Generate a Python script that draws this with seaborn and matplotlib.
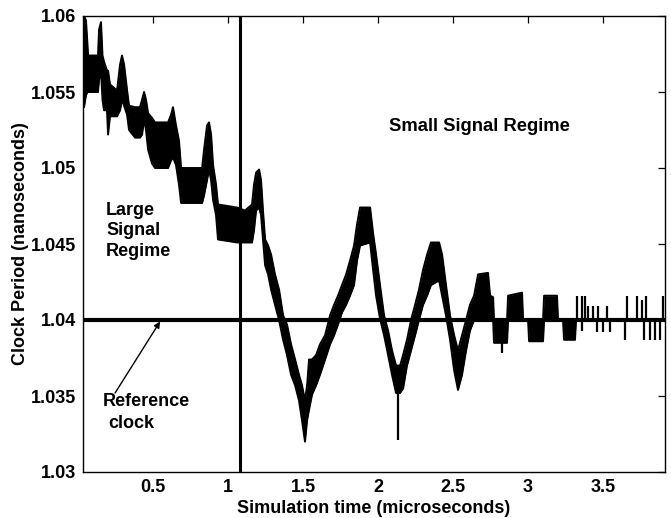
import matplotlib
matplotlib.use("Agg")
import matplotlib.pyplot as plt
import seaborn as sns
import pandas as pd

# Simulation time (microseconds) and the band swept by the toggling clock period (ns)
env_t = [0.027, 0.040, 0.053, 0.063, 0.067, 0.133, 0.140, 0.153, 0.163, 0.173,
         0.193, 0.200, 0.213, 0.260, 0.280, 0.293, 0.307, 0.327, 0.340, 0.380,
         0.413, 0.427, 0.440, 0.453, 0.467, 0.493, 0.513, 0.600, 0.620, 0.633,
         0.653, 0.673, 0.687, 0.827, 0.840, 0.860, 0.873, 0.887, 0.900, 0.920,
         0.933, 1.060, 1.113, 1.160, 1.173, 1.187, 1.207, 1.220, 1.233, 1.247,
         1.267, 1.287, 1.313, 1.340, 1.367, 1.393, 1.420, 1.447, 1.473, 1.493,
         1.513, 1.527, 1.540, 1.560, 1.587, 1.613, 1.647, 1.680, 1.707, 1.733,
         1.760, 1.787, 1.813, 1.840, 1.860, 1.880, 1.947, 1.967, 1.987, 2.013,
         2.040, 2.067, 2.093, 2.120, 2.147, 2.167, 2.193, 2.220, 2.247, 2.273,
         2.300, 2.327, 2.353, 2.407, 2.427, 2.453, 2.480, 2.507, 2.533, 2.560,
         2.587, 2.613, 2.640, 2.667, 2.733, 2.747, 2.767, 2.773, 2.860, 2.867,
         2.960, 2.967, 3.000, 3.007, 3.100, 3.107, 3.193, 3.200, 3.233, 3.240,
         3.313, 3.320, 3.913]
env_hi = [1.0599, 1.0600, 1.0597, 1.0581, 1.0574, 1.0574, 1.0591, 1.0596, 1.0574, 1.0570,
          1.0564, 1.0564, 1.0555, 1.0551, 1.0568, 1.0574, 1.0568, 1.0551, 1.0541, 1.0540,
          1.0540, 1.0545, 1.0550, 1.0545, 1.0536, 1.0533, 1.0530, 1.0530, 1.0535, 1.0540,
          1.0528, 1.0518, 1.0500, 1.0500, 1.0512, 1.0528, 1.0530, 1.0522, 1.0502, 1.0489,
          1.0476, 1.0474, 1.0472, 1.0476, 1.0489, 1.0497, 1.0499, 1.0492, 1.0472, 1.0453,
          1.0449, 1.0443, 1.0430, 1.0420, 1.0403, 1.0397, 1.0384, 1.0374, 1.0364, 1.0357,
          1.0347, 1.0357, 1.0374, 1.0374, 1.0377, 1.0384, 1.0390, 1.0403, 1.0410, 1.0416,
          1.0423, 1.0430, 1.0439, 1.0449, 1.0463, 1.0474, 1.0474, 1.0457, 1.0443, 1.0423,
          1.0403, 1.0393, 1.0380, 1.0370, 1.0370, 1.0377, 1.0387, 1.0400, 1.0410, 1.0420,
          1.0433, 1.0443, 1.0451, 1.0451, 1.0443, 1.0423, 1.0403, 1.0390, 1.0380, 1.0390,
          1.0400, 1.0410, 1.0416, 1.0430, 1.0431, 1.0416, 1.0415, 1.0400, 1.0400, 1.0416,
          1.0418, 1.0400, 1.0400, 1.0400, 1.0400, 1.0416, 1.0416, 1.0400, 1.0400, 1.0400,
          1.0400, 1.0400, 1.0400]
env_lo = [1.0545, 1.0540, 1.0548, 1.0550, 1.0550, 1.0550, 1.0558, 1.0564, 1.0545, 1.0538,
          1.0538, 1.0522, 1.0534, 1.0534, 1.0538, 1.0545, 1.0541, 1.0535, 1.0525, 1.0520,
          1.0520, 1.0522, 1.0532, 1.0525, 1.0512, 1.0503, 1.0500, 1.0500, 1.0505, 1.0507,
          1.0502, 1.0489, 1.0477, 1.0477, 1.0482, 1.0492, 1.0499, 1.0492, 1.0479, 1.0469,
          1.0453, 1.0451, 1.0451, 1.0451, 1.0459, 1.0472, 1.0474, 1.0469, 1.0453, 1.0436,
          1.0430, 1.0420, 1.0410, 1.0400, 1.0387, 1.0377, 1.0364, 1.0357, 1.0347, 1.0334,
          1.0320, 1.0334, 1.0341, 1.0351, 1.0357, 1.0364, 1.0374, 1.0384, 1.0390, 1.0397,
          1.0405, 1.0410, 1.0416, 1.0423, 1.0439, 1.0449, 1.0451, 1.0433, 1.0416, 1.0401,
          1.0390, 1.0377, 1.0364, 1.0352, 1.0352, 1.0355, 1.0370, 1.0380, 1.0390, 1.0400,
          1.0410, 1.0416, 1.0423, 1.0426, 1.0416, 1.0403, 1.0387, 1.0367, 1.0354, 1.0364,
          1.0380, 1.0393, 1.0400, 1.0401, 1.0401, 1.0400, 1.0400, 1.0385, 1.0385, 1.0400,
          1.0400, 1.0400, 1.0400, 1.0386, 1.0386, 1.0400, 1.0400, 1.0400, 1.0400, 1.0387,
          1.0387, 1.0400, 1.0400]

# Isolated single-cycle excursions of the clock period
spike_t = [2.133, 2.827, 3.327, 3.360, 3.380, 3.400, 3.433, 3.460, 3.467, 3.500,
           3.527, 3.547, 3.647, 3.660, 3.727, 3.760, 3.773, 3.787, 3.813, 3.847,
           3.880, 3.900]
spike_hi = [1.0352, 1.0400, 1.0416, 1.0416, 1.0416, 1.0409, 1.0409, 1.0400, 1.0409, 1.0400,
            1.0409, 1.0400, 1.0400, 1.0416, 1.0416, 1.0413, 1.0400, 1.0416, 1.0400, 1.0400,
            1.0400, 1.0416]
spike_lo = [1.0321, 1.0378, 1.0400, 1.0393, 1.0400, 1.0400, 1.0400, 1.0392, 1.0400, 1.0392,
            1.0400, 1.0392, 1.0387, 1.0400, 1.0400, 1.0400, 1.0387, 1.0400, 1.0387, 1.0387,
            1.0387, 1.0400]

reference_period = 1.04
regime_boundary = 1.08

x_ticks = [0.5, 1.0, 1.5, 2.0, 2.5, 3.0, 3.5]
x_tick_labels = ["0.5", "1", "1.5", "2", "2.5", "3", "3.5"]
y_ticks = [1.03, 1.035, 1.04, 1.045, 1.05, 1.055, 1.06]
y_tick_labels = ["1.03", "1.035", "1.04", "1.045", "1.05", "1.055", "1.06"]

sns.set_style("white")
plt.rcParams["font.family"] = ["Liberation Sans", "DejaVu Sans"]
plt.rcParams["font.weight"] = "bold"
for key in ("text.color", "axes.labelcolor", "xtick.color", "ytick.color"):
    plt.rcParams[key] = "black"
FS = 13

fig = plt.figure(figsize=(6.71, 5.18), dpi=100)
ax = fig.add_axes([83 / 671, 1 - 472 / 518, 582 / 671, 456 / 518])

df = pd.DataFrame({"t": env_t, "hi": env_hi, "lo": env_lo})
ax.fill_between(df["t"], df["lo"], df["hi"], color="black", lw=0)
sns.lineplot(data=df, x="t", y="hi", ax=ax, color="black", lw=1.4,
             estimator=None, sort=False)
sns.lineplot(data=df, x="t", y="lo", ax=ax, color="black", lw=1.4,
             estimator=None, sort=False)
ax.vlines(spike_t, spike_lo, spike_hi, color="black", lw=1.6)

ax.axhline(reference_period, color="black", lw=3.0)
ax.axvline(regime_boundary, color="black", lw=2.2)

ax.set_xlim(0.033, 3.913)
ax.set_ylim(1.03, 1.06)
ax.set_xticks(x_ticks)
ax.set_xticklabels(x_tick_labels)
ax.set_yticks(y_ticks)
ax.set_yticklabels(y_tick_labels)
ax.tick_params(direction="in", length=5, width=0.9, top=True, right=True,
               labelsize=FS, pad=5, colors="black")
for lab in ax.get_xticklabels() + ax.get_yticklabels():
    lab.set_fontweight("bold")
for sp in ax.spines.values():
    sp.set_color("black")
    sp.set_linewidth(1.0)

ax.set_xlabel("Simulation time (microseconds)", fontsize=FS, fontweight="bold")
ax.set_ylabel("Clock Period (nanoseconds)", fontsize=FS, fontweight="bold")
ax.xaxis.set_label_coords(0.5, -0.061)
ax.yaxis.set_label_coords(-0.092, 0.5)

ax.text(2.673, 1.0527, "Small Signal Regime", fontsize=13.3, fontweight="bold",
        ha="center", va="center")
ax.text(0.187, 1.04586, "Large\nSignal\nRegime", fontsize=FS, fontweight="bold",
        ha="left", va="center", linespacing=1.25)
ax.text(0.167, 1.03461, "Reference", fontsize=FS, fontweight="bold", ha="left", va="center")
ax.text(0.200, 1.03322, "clock", fontsize=FS, fontweight="bold", ha="left", va="center")
ax.annotate("", xy=(0.547, 1.0399), xytext=(0.247, 1.0352),
            arrowprops=dict(arrowstyle="-|>", color="black", lw=1.0,
                            mutation_scale=9, shrinkA=0, shrinkB=0))

fig.savefig("out.png", dpi=100)
